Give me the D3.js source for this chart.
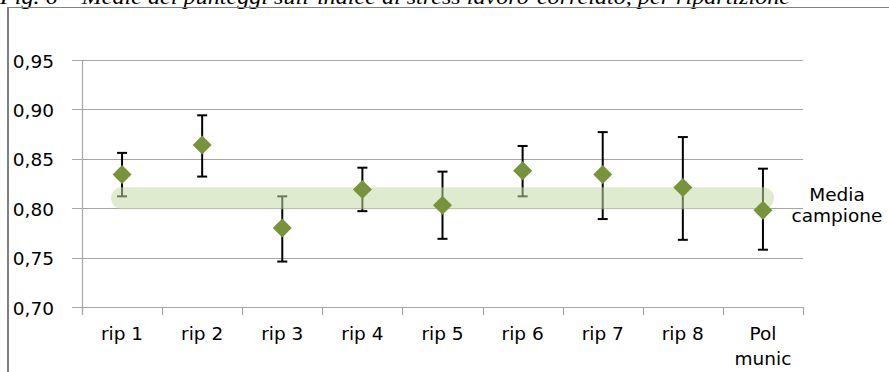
<!DOCTYPE html>
<html>
<head>
<meta charset="utf-8">
<script src="https://cdn.jsdelivr.net/npm/d3@7"></script>
<style>
  body { margin: 0; background: #fff; }
  svg { display: block; }
</style>
</head>
<body>
<div id="chart"></div>
<script>
var categories = ["rip 1", "rip 2", "rip 3", "rip 4", "rip 5", "rip 6", "rip 7", "rip 8", "Pol munic"];
var means = [0.834, 0.864, 0.780, 0.819, 0.803, 0.838, 0.834, 0.821, 0.798];
var upper = [0.856, 0.894, 0.812, 0.841, 0.837, 0.863, 0.877, 0.872, 0.840];
var lower = [0.812, 0.832, 0.746, 0.797, 0.769, 0.812, 0.789, 0.768, 0.758];
var sampleMean = 0.81;
var yTicks = [0.70, 0.75, 0.80, 0.85, 0.90, 0.95];
var title = "Fig. 6 \u2013 Medie dei punteggi sull\u2019indice di stress lavoro-correlato, per ripartizione";

var width = 889;
var height = 372;
var font = "Verdana, 'DejaVu Sans', sans-serif";

var it = d3.formatLocale({decimal: ",", thousands: ".", grouping: [3], currency: ["", "\u20ac"]});
var fmt = it.format(".2f");

var svg = d3.select("#chart")
  .append("svg")
  .attr("width", width)
  .attr("height", height);

// caption, cut off at the top like in the scan
svg.append("text")
  .attr("x", 0)
  .attr("y", 4)
  .attr("font-family", "'Liberation Serif', 'Times New Roman', serif")
  .attr("font-style", "italic")
  .attr("font-size", 21)
  .attr("textLength", 790)
  .attr("lengthAdjust", "spacingAndGlyphs")
  .text(title);

// frame
svg.append("line")
  .attr("x1", 8).attr("x2", width)
  .attr("y1", 7.5).attr("y2", 7.5)
  .attr("stroke", "#808080").attr("stroke-width", 1.2);
svg.append("line")
  .attr("x1", 8).attr("x2", 8)
  .attr("y1", 7).attr("y2", height)
  .attr("stroke", "#808080").attr("stroke-width", 2);

var x = d3.scaleBand()
  .domain(categories)
  .range([82, 803])
  .padding(0);

var y = d3.scaleLinear()
  .domain([0.70, 0.95])
  .range([307, 60]);

var cx = function(i) { return x(categories[i]) + x.bandwidth() / 2; };

// gridlines
svg.append("g")
  .selectAll("line")
  .data(yTicks)
  .enter()
  .append("line")
  .attr("x1", 72).attr("x2", 803)
  .attr("y1", d => Math.round(y(d)) + 0.5)
  .attr("y2", d => Math.round(y(d)) + 0.5)
  .attr("stroke", "#a6a6a6")
  .attr("stroke-width", 1.2);

// y axis labels
svg.append("g")
  .selectAll("text")
  .data(yTicks)
  .enter()
  .append("text")
  .attr("x", 54)
  .attr("y", d => y(d) + 7.5)
  .attr("text-anchor", "end")
  .attr("font-family", font)
  .attr("font-size", 18.5)
  .attr("fill", "#000")
  .text(d => fmt(d));

// y axis line
svg.append("line")
  .attr("x1", 82.5).attr("x2", 82.5)
  .attr("y1", y(0.95)).attr("y2", 315)
  .attr("stroke", "#a6a6a6").attr("stroke-width", 1.2);

// x ticks
var xEdges = categories.map((c, i) => x(c)).concat([803]);
svg.append("g")
  .selectAll("line")
  .data(xEdges)
  .enter()
  .append("line")
  .attr("x1", d => Math.round(d) + 0.5)
  .attr("x2", d => Math.round(d) + 0.5)
  .attr("y1", 307).attr("y2", 315)
  .attr("stroke", "#a6a6a6").attr("stroke-width", 1.2);

// category labels
var labels = svg.append("g")
  .selectAll("text")
  .data(categories)
  .enter()
  .append("text")
  .attr("text-anchor", "middle")
  .attr("font-family", font)
  .attr("font-size", 18.5)
  .attr("fill", "#000");

labels.each(function(d, i) {
  var parts = d === "Pol munic" ? ["Pol", "munic"] : [d];
  d3.select(this).selectAll("tspan")
    .data(parts)
    .enter()
    .append("tspan")
    .attr("x", cx(i))
    .attr("y", (p, j) => 340 + j * 25)
    .text(p => p);
});

// error bars
var bars = svg.append("g")
  .attr("stroke", "#000")
  .attr("stroke-width", 2);

bars.selectAll("line.v")
  .data(categories)
  .enter()
  .append("line")
  .attr("class", "v")
  .attr("x1", (d, i) => cx(i)).attr("x2", (d, i) => cx(i))
  .attr("y1", (d, i) => y(upper[i])).attr("y2", (d, i) => y(lower[i]));

bars.selectAll("line.top")
  .data(categories)
  .enter()
  .append("line")
  .attr("class", "top")
  .attr("x1", (d, i) => cx(i) - 5).attr("x2", (d, i) => cx(i) + 5)
  .attr("y1", (d, i) => y(upper[i])).attr("y2", (d, i) => y(upper[i]));

bars.selectAll("line.bot")
  .data(categories)
  .enter()
  .append("line")
  .attr("class", "bot")
  .attr("x1", (d, i) => cx(i) - 5).attr("x2", (d, i) => cx(i) + 5)
  .attr("y1", (d, i) => y(lower[i])).attr("y2", (d, i) => y(lower[i]));

// sample mean band
var line = d3.line()
  .x((d, i) => cx(i))
  .y(d => y(sampleMean));

svg.append("path")
  .datum(categories)
  .attr("d", line)
  .attr("fill", "none")
  .attr("stroke", "#c3dba8")
  .attr("stroke-opacity", 0.55)
  .attr("stroke-width", 22)
  .attr("stroke-linecap", "round");

svg.append("text")
  .attr("text-anchor", "middle")
  .attr("font-family", font)
  .attr("font-size", 18.5)
  .attr("fill", "#000")
  .selectAll("tspan")
  .data(["Media", "campione"])
  .enter()
  .append("tspan")
  .attr("x", 837)
  .attr("y", (d, i) => 201 + i * 21)
  .text(d => d);

// diamonds
var diamond = d3.symbol().type(d3.symbolSquare).size(180);

svg.append("g")
  .selectAll("path")
  .data(means)
  .enter()
  .append("path")
  .attr("d", diamond)
  .attr("transform", (d, i) => "translate(" + cx(i) + "," + y(d) + ") rotate(45)")
  .attr("fill", "#77933c");
</script>
</body>
</html>
